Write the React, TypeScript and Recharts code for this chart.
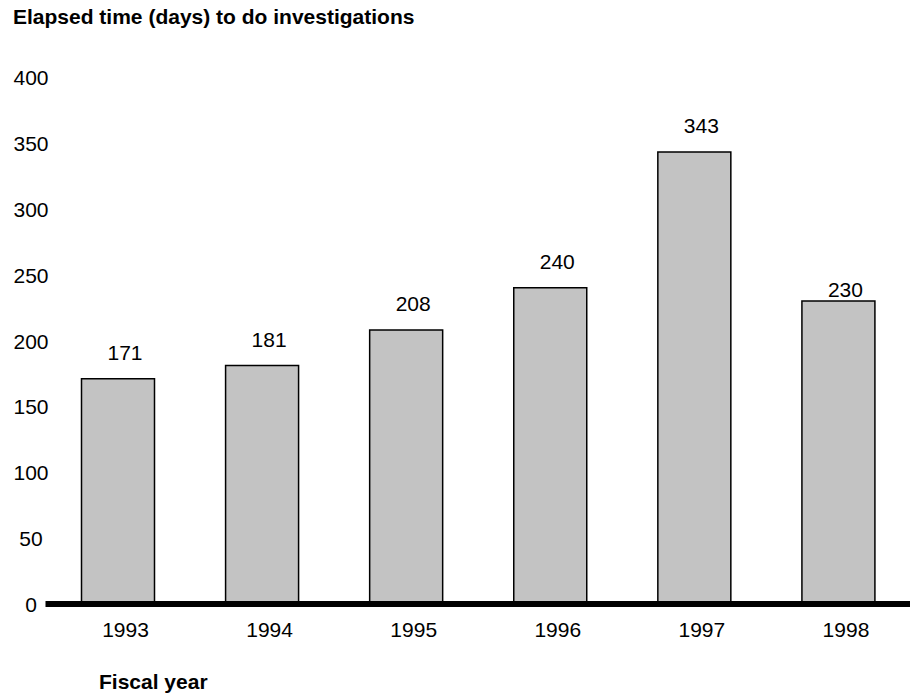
import React from 'react';
import { BarChart, Bar, XAxis, YAxis, LabelList } from 'recharts';

const years = ['1993', '1994', '1995', '1996', '1997', '1998'];
const elapsedDays = [171, 181, 208, 240, 343, 230];
const yTicks = [0, 50, 100, 150, 200, 250, 300, 350, 400];

const FONT = '"Liberation Sans", Arial, Helvetica, sans-serif';
const FS = 21;

const data = years.map((year, i) => ({ year, days: elapsedDays[i] }));

const YTick = (props: any) => {
  const { y, payload } = props;
  return (
    <text x={31} y={y} dy={8} textAnchor="middle" fontSize={FS} fontFamily={FONT} fill="#000">
      {payload.value}
    </text>
  );
};

const XTick = (props: any) => {
  const { x, y, payload } = props;
  return (
    <text x={x} y={y} dx={8} dy={33} textAnchor="middle" fontSize={FS} fontFamily={FONT} fill="#000">
      {payload.value}
    </text>
  );
};

const ValueLabel = (props: any) => {
  const { x, y, width, value, index } = props;
  // the last label sits close to its bar in the original
  const gap = index === elapsedDays.length - 1 ? 4 : 19;
  return (
    <text x={x + width / 2 + 7} y={y - gap} textAnchor="middle" fontSize={FS} fontFamily={FONT} fill="#000">
      {value}
    </text>
  );
};

export default function App() {
  return (
    <div style={{ position: 'absolute', left: 0, top: 0, width: 914, height: 700, background: '#fff', fontFamily: FONT }}>
      <div style={{ position: 'absolute', left: 13, top: 6, fontSize: FS, lineHeight: '21px', fontWeight: 'bold', whiteSpace: 'nowrap' }}>
        Elapsed time (days) to do investigations
      </div>
      <BarChart width={914} height={700} data={data} margin={{ top: 77, right: 4, left: 0, bottom: 66 }}>
        <YAxis
          domain={[0, 400]}
          ticks={yTicks}
          width={45.5}
          axisLine={false}
          tickLine={false}
          tick={<YTick />}
          interval={0}
        />
        <XAxis
          dataKey="year"
          height={30}
          tickLine={false}
          tickSize={0}
          tickMargin={0}
          axisLine={{ stroke: '#000', strokeWidth: 6 }}
          tick={<XTick />}
          interval={0}
        />
        <Bar dataKey="days" fill="#c3c3c3" stroke="#000" strokeWidth={1.5} barSize={73} isAnimationActive={false}>
          <LabelList dataKey="days" content={<ValueLabel />} />
        </Bar>
      </BarChart>
      <div style={{ position: 'absolute', left: 99, top: 671, fontSize: FS, lineHeight: '21px', fontWeight: 'bold', whiteSpace: 'nowrap' }}>
        Fiscal year
      </div>
    </div>
  );
}
